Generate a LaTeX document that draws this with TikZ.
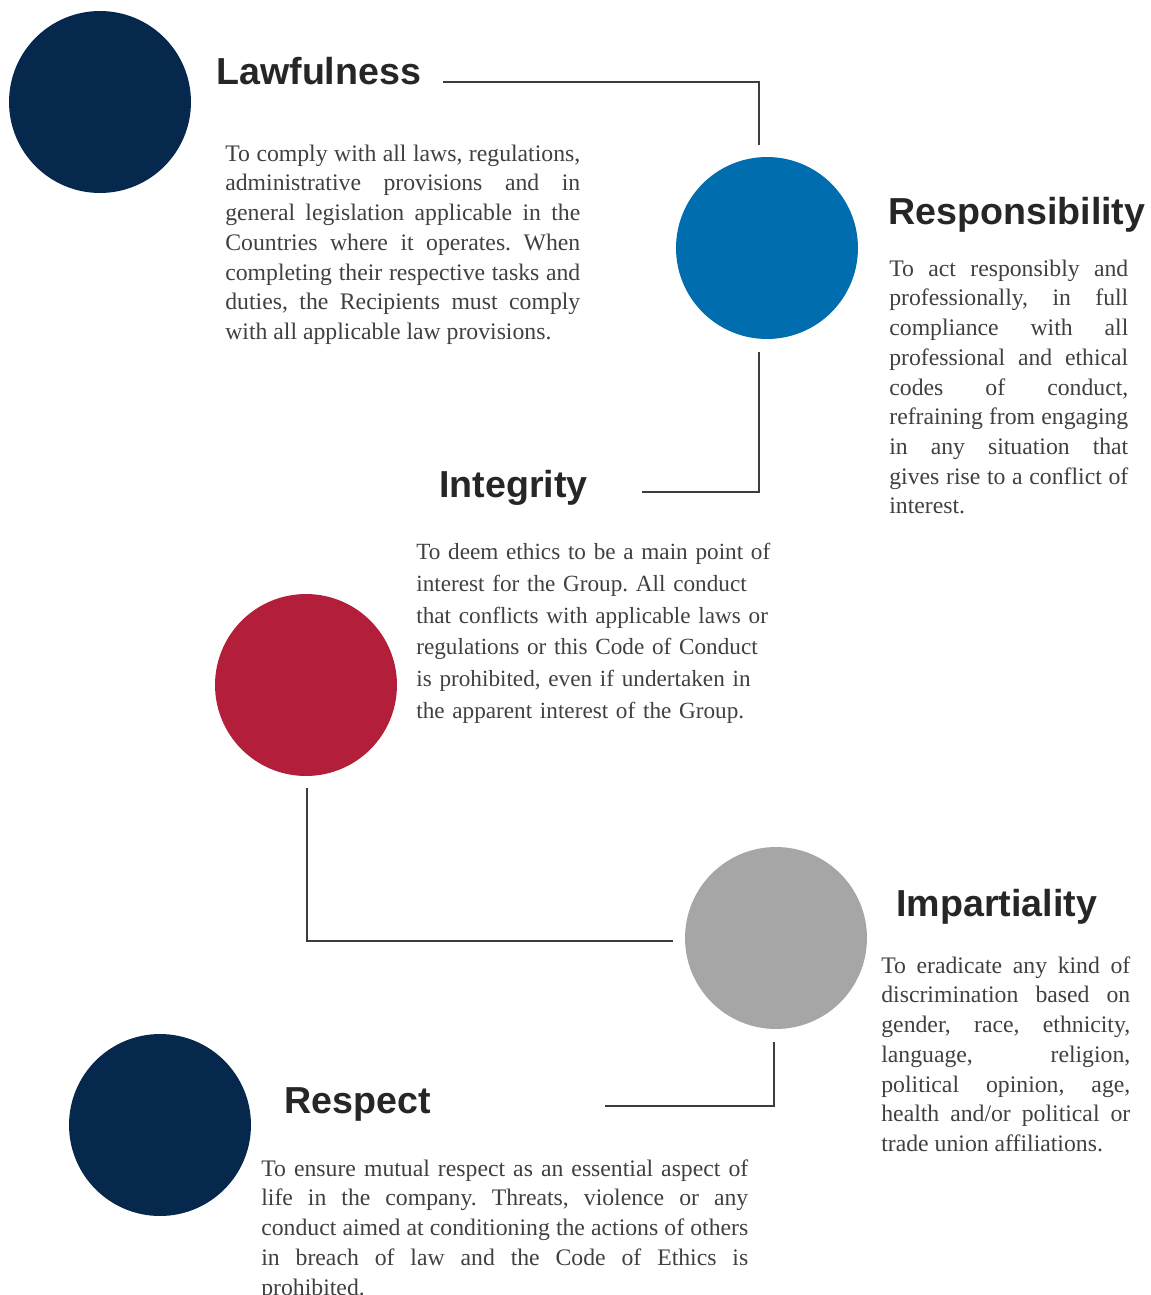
\documentclass[tikz,border=0pt]{standalone}
\usepackage{fontspec}
\setmainfont{Liberation Serif}
\newfontfamily\headfont{Liberation Sans}
\usetikzlibrary{positioning}

\definecolor{navy}{HTML}{06284D}
\definecolor{oceanblue}{HTML}{006EAE}
\definecolor{crimson}{HTML}{B31E3A}
\definecolor{stone}{HTML}{A6A6A6}
\definecolor{ink}{HTML}{262626}
\definecolor{bodygray}{HTML}{404040}

\hyphenpenalty=10000
\tolerance=10000
\frenchspacing

\tikzset{
	dot/.style={circle, inner sep=0pt, minimum size=3.64cm},
	title/.style={anchor=base west, inner sep=0pt, text=ink,
		font=\headfont\bfseries\fontsize{21.4}{25}\selectfont},
	blurb/.style={anchor=north west, inner sep=0pt, align=justify, text=bodygray,
		font=\fontsize{13.5}{16.92}\selectfont},
	link/.style={draw=ink!90, line width=1.1pt},
}

\begin{document}
\begin{tikzpicture}[x=0.02cm,y=-0.02cm]
	\useasboundingbox (0,0) rectangle (1151,1295);

	% circles
	\node[dot,fill=navy] (lawdot) at (100,102) {};
	\node[dot,fill=oceanblue] (respdot) at (767,248) {};
	\node[dot,fill=crimson] (integdot) at (306,685) {};
	\node[dot,fill=stone] (impdot) at (776,938) {};
	\node[dot,fill=navy] (respectdot) at (160,1125) {};

	% titles
	\node[title] (lawtitle) at (216,84) {Lawfulness};
	\node[title] (resptitle) at (888,224) {Responsibility};
	\node[title] (integtitle) at (439,497) {Integrity};
	\node[title] (imptitle) at (896,916) {Impartiality};
	\node[title] (respecttitle) at (284,1113) {Respect};

	% texts
	\node[blurb,text width=7.1cm] (lawtext) at (225,140) {\strut To comply with all laws, regulations,\linebreak
		administrative provisions and in\linebreak
		general legislation applicable in the\linebreak
		Countries where it operates. When\linebreak
		completing their respective tasks and\linebreak
		duties, the Recipients must comply\linebreak
		with all applicable law provisions.};
	\node[blurb,text width=4.78cm] (resptext) at (889,255) {\strut To act responsibly and\linebreak
		professionally, in full\linebreak
		compliance with all\linebreak
		professional and ethical\linebreak
		codes of conduct,\linebreak
		refraining from engaging\linebreak
		in any situation that\linebreak
		gives rise to a conflict of\linebreak
		interest.};
	\node[blurb,text width=8cm,align=left,font=\fontsize{13.2}{18.14}\selectfont] (integtext) at (416,536.6) {\strut To deem ethics to be a main point of\\
		interest for the Group. All conduct\\
		that conflicts with applicable laws or\\
		regulations or this Code of Conduct\\
		is prohibited, even if undertaken in\\
		the apparent interest of the Group.};
	\node[blurb,text width=4.98cm] (imptext) at (881,952) {\strut To eradicate any kind of\linebreak
		discrimination based on\linebreak
		gender, race, ethnicity,\linebreak
		language, religion,\linebreak
		political opinion, age,\linebreak
		health and/or political or\linebreak
		trade union affiliations.};
	\node[blurb,text width=9.74cm] (respecttext) at (261,1155) {\strut To ensure mutual respect as an essential aspect of\linebreak
		life in the company. Threats, violence or any\linebreak
		conduct aimed at conditioning the actions of others\linebreak
		in breach of law and the Code of Ethics is\linebreak
		prohibited.};

	% connector ends
	\coordinate (lawend) at (443,82);
	\coordinate (respin) at (759,145);
	\coordinate (respout) at (759,352);
	\coordinate (integend) at (642,492);
	\coordinate (integout) at (307,788);
	\coordinate (impin) at (673,941);
	\coordinate (impout) at (774,1042);
	\coordinate (respectend) at (605,1106);

	\draw[link] (lawend) -| (respin);
	\draw[link] (respout) |- (integend);
	\draw[link] (integout) |- (impin);
	\draw[link] (impout) |- (respectend);
\end{tikzpicture}
\end{document}
